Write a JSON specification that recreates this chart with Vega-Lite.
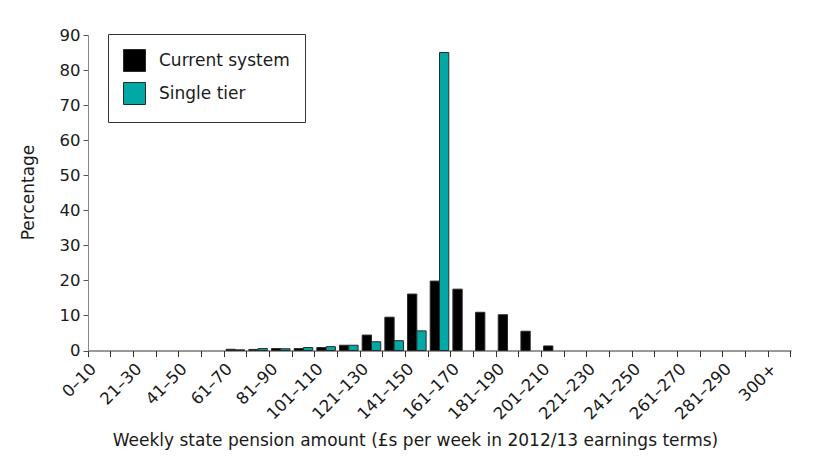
{
  "$schema": "https://vega.github.io/schema/vega-lite/v6.json",
  "autosize": "none",
  "width": 703,
  "height": 315.5,
  "padding": {"left": 88, "top": 35, "right": 29, "bottom": 117.5},
  "background": "white",
  "config": {
    "font": "DejaVu Sans",
    "view": {"stroke": null},
    "axis": {"labelFont": "DejaVu Sans", "titleFont": "DejaVu Sans", "labelColor": "#1a1a1a", "titleColor": "#1a1a1a", "titleFontWeight": "normal"},
    "legend": {"labelFont": "DejaVu Sans"}
  },
  "data": {
    "values": [
      {"band": "0–10", "system": "Current system", "pct": 0},
      {"band": "0–10", "system": "Single tier", "pct": 0},
      {"band": "11–20", "system": "Current system", "pct": 0},
      {"band": "11–20", "system": "Single tier", "pct": 0},
      {"band": "21–30", "system": "Current system", "pct": 0},
      {"band": "21–30", "system": "Single tier", "pct": 0},
      {"band": "31–40", "system": "Current system", "pct": 0},
      {"band": "31–40", "system": "Single tier", "pct": 0},
      {"band": "41–50", "system": "Current system", "pct": 0},
      {"band": "41–50", "system": "Single tier", "pct": 0},
      {"band": "51–60", "system": "Current system", "pct": 0},
      {"band": "51–60", "system": "Single tier", "pct": 0},
      {"band": "61–70", "system": "Current system", "pct": 0.35},
      {"band": "61–70", "system": "Single tier", "pct": 0.2},
      {"band": "71–80", "system": "Current system", "pct": 0.3},
      {"band": "71–80", "system": "Single tier", "pct": 0.55},
      {"band": "81–90", "system": "Current system", "pct": 0.55},
      {"band": "81–90", "system": "Single tier", "pct": 0.5},
      {"band": "91–100", "system": "Current system", "pct": 0.55},
      {"band": "91–100", "system": "Single tier", "pct": 0.85},
      {"band": "101–110", "system": "Current system", "pct": 0.85},
      {"band": "101–110", "system": "Single tier", "pct": 1.1},
      {"band": "111–120", "system": "Current system", "pct": 1.5},
      {"band": "111–120", "system": "Single tier", "pct": 1.5},
      {"band": "121–130", "system": "Current system", "pct": 4.4},
      {"band": "121–130", "system": "Single tier", "pct": 2.5},
      {"band": "131–140", "system": "Current system", "pct": 9.5},
      {"band": "131–140", "system": "Single tier", "pct": 2.8},
      {"band": "141–150", "system": "Current system", "pct": 16.1},
      {"band": "141–150", "system": "Single tier", "pct": 5.6},
      {"band": "151–160", "system": "Current system", "pct": 19.8},
      {"band": "151–160", "system": "Single tier", "pct": 85},
      {"band": "161–170", "system": "Current system", "pct": 17.5},
      {"band": "161–170", "system": "Single tier", "pct": 0},
      {"band": "171–180", "system": "Current system", "pct": 10.9},
      {"band": "171–180", "system": "Single tier", "pct": 0},
      {"band": "181–190", "system": "Current system", "pct": 10.2},
      {"band": "181–190", "system": "Single tier", "pct": 0},
      {"band": "191–200", "system": "Current system", "pct": 5.5},
      {"band": "191–200", "system": "Single tier", "pct": 0},
      {"band": "201–210", "system": "Current system", "pct": 1.3},
      {"band": "201–210", "system": "Single tier", "pct": 0},
      {"band": "211–220", "system": "Current system", "pct": 0},
      {"band": "211–220", "system": "Single tier", "pct": 0},
      {"band": "221–230", "system": "Current system", "pct": 0},
      {"band": "221–230", "system": "Single tier", "pct": 0},
      {"band": "231–240", "system": "Current system", "pct": 0},
      {"band": "231–240", "system": "Single tier", "pct": 0},
      {"band": "241–250", "system": "Current system", "pct": 0},
      {"band": "241–250", "system": "Single tier", "pct": 0},
      {"band": "251–260", "system": "Current system", "pct": 0},
      {"band": "251–260", "system": "Single tier", "pct": 0},
      {"band": "261–270", "system": "Current system", "pct": 0},
      {"band": "261–270", "system": "Single tier", "pct": 0},
      {"band": "271–280", "system": "Current system", "pct": 0},
      {"band": "271–280", "system": "Single tier", "pct": 0},
      {"band": "281–290", "system": "Current system", "pct": 0},
      {"band": "281–290", "system": "Single tier", "pct": 0},
      {"band": "291–300", "system": "Current system", "pct": 0},
      {"band": "291–300", "system": "Single tier", "pct": 0},
      {"band": "300+", "system": "Current system", "pct": 0},
      {"band": "300+", "system": "Single tier", "pct": 0}
    ]
  },
  "mark": {"type": "bar", "stroke": "#2a2a2a"},
  "encoding": {
    "x": {
      "field": "band",
      "type": "nominal",
      "sort": null,
      "scale": {"paddingInner": 0, "paddingOuter": 0},
      "axis": {
        "title": "Weekly state pension amount (£s per week in 2012/13 earnings terms)",
        "titleFontSize": 17,
        "titleY": 90,
        "titleX": 327,
        "titleBaseline": "middle",
        "labelAngle": -45,
        "labelFontSize": 16.5,
        "labelPadding": 4,
        "bandPosition": 1,
        "tickExtra": true,
        "labelOffset": -11.3,
        "tickSize": 6,
        "tickColor": "#333333",
        "domainColor": "#333333",
        "labelExpr": "indexof(['0–10','21–30','41–50','61–70','81–90','101–110','121–130','141–150','161–170','181–190','201–210','221–230','241–250','261–270','281–290','300+'], datum.value) >= 0 ? datum.label : ''"
      }
    },
    "xOffset": {
      "field": "system",
      "type": "nominal",
      "scale": {"paddingInner": 0, "paddingOuter": 0.22}
    },
    "y": {
      "field": "pct",
      "type": "quantitative",
      "scale": {"domain": [0, 90]},
      "axis": {
        "title": "Percentage",
        "titleFontSize": 17,
        "titleX": -60,
        "titleY": 157,
        "titleBaseline": "middle",
        "values": [0, 10, 20, 30, 40, 50, 60, 70, 80, 90],
        "labelFontSize": 16.5,
        "labelPadding": 3,
        "grid": false,
        "tickSize": 5,
        "tickColor": "#555555",
        "domainColor": "#888888"
      }
    },
    "strokeWidth": {"condition": {"test": "datum.pct > 0", "value": 1}, "value": 0},
    "color": {
      "field": "system",
      "type": "nominal",
      "scale": {"domain": ["Current system", "Single tier"], "range": ["#000000", "#00a9a6"]},
      "legend": {
        "title": null,
        "orient": "none",
        "legendX": 20,
        "legendY": -1,
        "symbolType": "square",
        "symbolSize": 484,
        "symbolStrokeColor": "#2a2a2a",
        "symbolStrokeWidth": 1,
        "labelFontSize": 17,
        "labelColor": "#1a1a1a",
        "labelOffset": 13,
        "rowPadding": 6,
        "padding": 15,
        "strokeColor": "#333333",
        "fillColor": "white"
      }
    }
  }
}
